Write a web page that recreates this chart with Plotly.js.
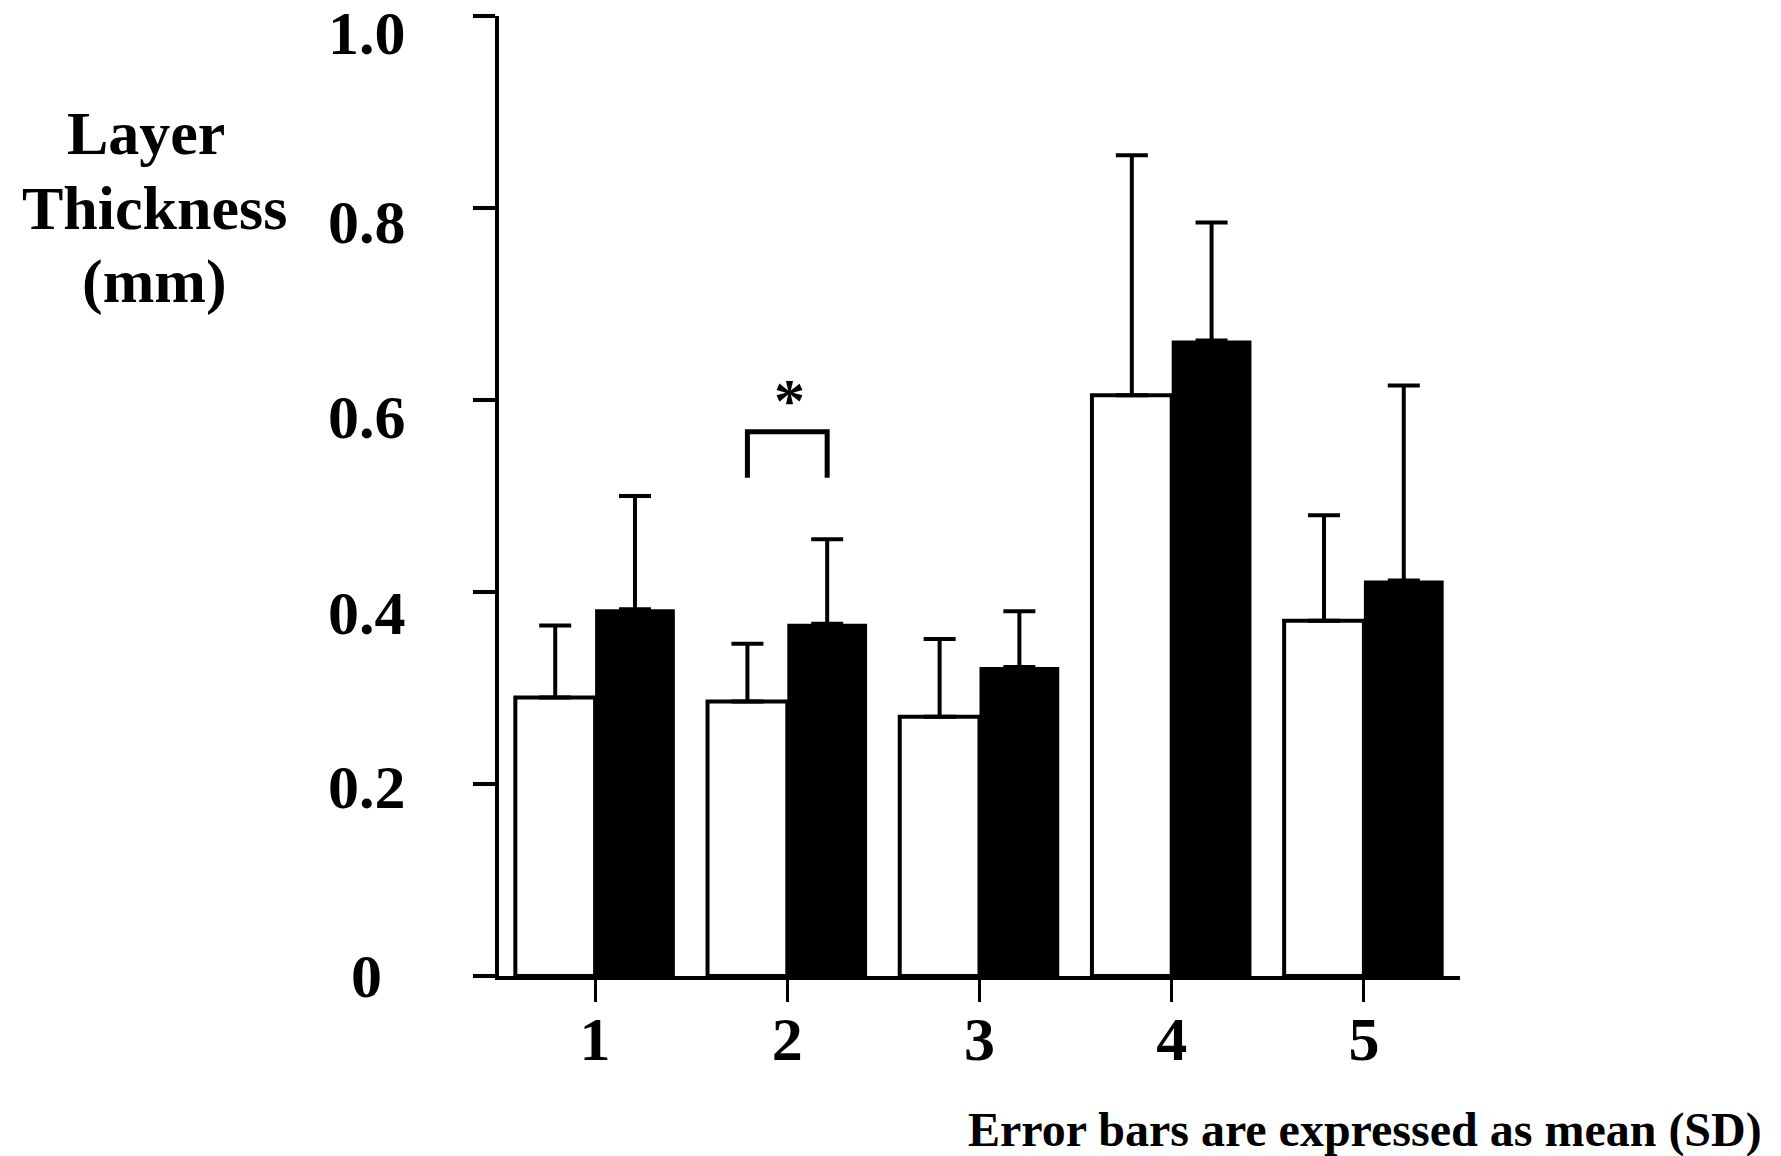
<!DOCTYPE html>
<html>
<head>
<meta charset="utf-8">
<script src="https://cdn.plot.ly/plotly-3.0.1.min.js"></script>
<style>
  html, body { margin: 0; padding: 0; background: #ffffff; }
  #chart { width: 1781px; height: 1156px; }
</style>
</head>
<body>
<div id="chart"></div>
<script>
// ---- data ----
const categories = [1, 2, 3, 4, 5];
const categoryLabels = ['1', '2', '3', '4', '5'];
const whiteMeans = [0.290, 0.286, 0.270, 0.605, 0.370];
const whiteSD    = [0.075, 0.060, 0.081, 0.250, 0.110];
const blackMeans = [0.382, 0.367, 0.322, 0.662, 0.412];
const blackSD    = [0.118, 0.088, 0.058, 0.123, 0.203];
const yTickVals  = [0, 0.2, 0.4, 0.6, 0.8, 1.0];
const yTickText  = ['0', '0.2', '0.4', '0.6', '0.8', '1.0'];
const yTitleLines = ['Layer', 'Thickness', '(mm)'];
const footNote = 'Error bars are expressed as mean (SD)';
const sigGroup = 2;
const sigMark = '*';

// ---- styling / layout tweaks ----
const FONT = 'Liberation Serif, Times New Roman, serif';
const BARGAP = 0.17;
const barW = (1 - BARGAP) / 2;
const yLabelNudge = [0, -3, -21, -17, -14, -17];   // px, label offsets as in the original figure
const titleYs = [0.878, 0.7995, 0.723];
const titleXShift = [-9, 0, 0];

const zeros = categories.map(() => 0);
const errStyle = { type: 'data', symmetric: false, color: '#000', thickness: 4, width: 16 };

const traces = [
  {
    type: 'bar', x: categories, y: whiteMeans, name: 'white',
    marker: { color: '#ffffff', line: { color: '#000000', width: 4 } },
    error_y: Object.assign({ array: whiteSD, arrayminus: zeros }, errStyle),
    hoverinfo: 'skip'
  },
  {
    type: 'bar', x: categories, y: blackMeans, name: 'black',
    marker: { color: '#000000', line: { color: '#000000', width: 0 } },
    error_y: Object.assign({ array: blackSD, arrayminus: zeros }, errStyle),
    hoverinfo: 'skip'
  }
];

const annotations = [];
yTickVals.forEach((v, i) => {
  annotations.push({
    xref: 'paper', yref: 'y', x: -0.1374, y: v, xanchor: 'center', yanchor: 'middle',
    yshift: yLabelNudge[i],
    text: yTickText[i], showarrow: false,
    font: { family: FONT, size: 62, color: '#000', weight: 700 }
  });
});
yTitleLines.forEach((t, i) => {
  annotations.push({
    xref: 'paper', yref: 'paper', x: -0.358, y: titleYs[i], xanchor: 'center', yanchor: 'middle',
    xshift: titleXShift[i],
    text: t, showarrow: false,
    font: { family: FONT, size: 62, color: '#000', weight: 700 }
  });
});
annotations.push({
  xref: 'paper', yref: 'paper', x: 1.3163, y: -0.1604, xanchor: 'right', yanchor: 'middle',
  text: footNote, showarrow: false,
  font: { family: FONT, size: 48, color: '#000', weight: 700 }
});
annotations.push({
  xref: 'x', yref: 'y', x: sigGroup, y: 0.600, xanchor: 'center', yanchor: 'middle',
  xshift: 2,
  text: sigMark, showarrow: false,
  font: { family: FONT, size: 62, color: '#000', weight: 700 }
});

const bx0 = sigGroup - barW / 2, bx1 = sigGroup + barW / 2;
const bTop = 0.567, bBot = 0.519;
const shapes = [{
  type: 'path', xref: 'x', yref: 'y',
  path: `M ${bx0} ${bBot} L ${bx0} ${bTop} L ${bx1} ${bTop} L ${bx1} ${bBot}`,
  line: { color: '#000', width: 5 }
}];

const layout = {
  width: 1781, height: 1156,
  margin: { l: 499, r: 321, t: 16, b: 180, pad: 0 },
  paper_bgcolor: '#ffffff', plot_bgcolor: '#ffffff',
  showlegend: false,
  barmode: 'group', bargap: BARGAP, bargroupgap: 0,
  xaxis: {
    range: [0.5, 5.5], tickmode: 'array', tickvals: categories, ticktext: categoryLabels,
    showline: true, linecolor: '#000', linewidth: 4, mirror: false,
    ticks: 'outside', ticklen: 22, tickwidth: 3, tickcolor: '#000',
    showgrid: false, zeroline: false, fixedrange: true,
    tickfont: { family: FONT, size: 62, color: '#000', weight: 700 },
    ticklabelstandoff: -16
  },
  yaxis: {
    range: [0, 1.0], tickmode: 'array', tickvals: yTickVals,
    showline: true, linecolor: '#000', linewidth: 4,
    ticks: 'outside', ticklen: 22, tickwidth: 4, tickcolor: '#000',
    showticklabels: false, showgrid: false, zeroline: false, fixedrange: true
  },
  annotations: annotations,
  shapes: shapes
};

Plotly.newPlot('chart', traces, layout, { displayModeBar: false, staticPlot: true });
</script>
</body>
</html>
